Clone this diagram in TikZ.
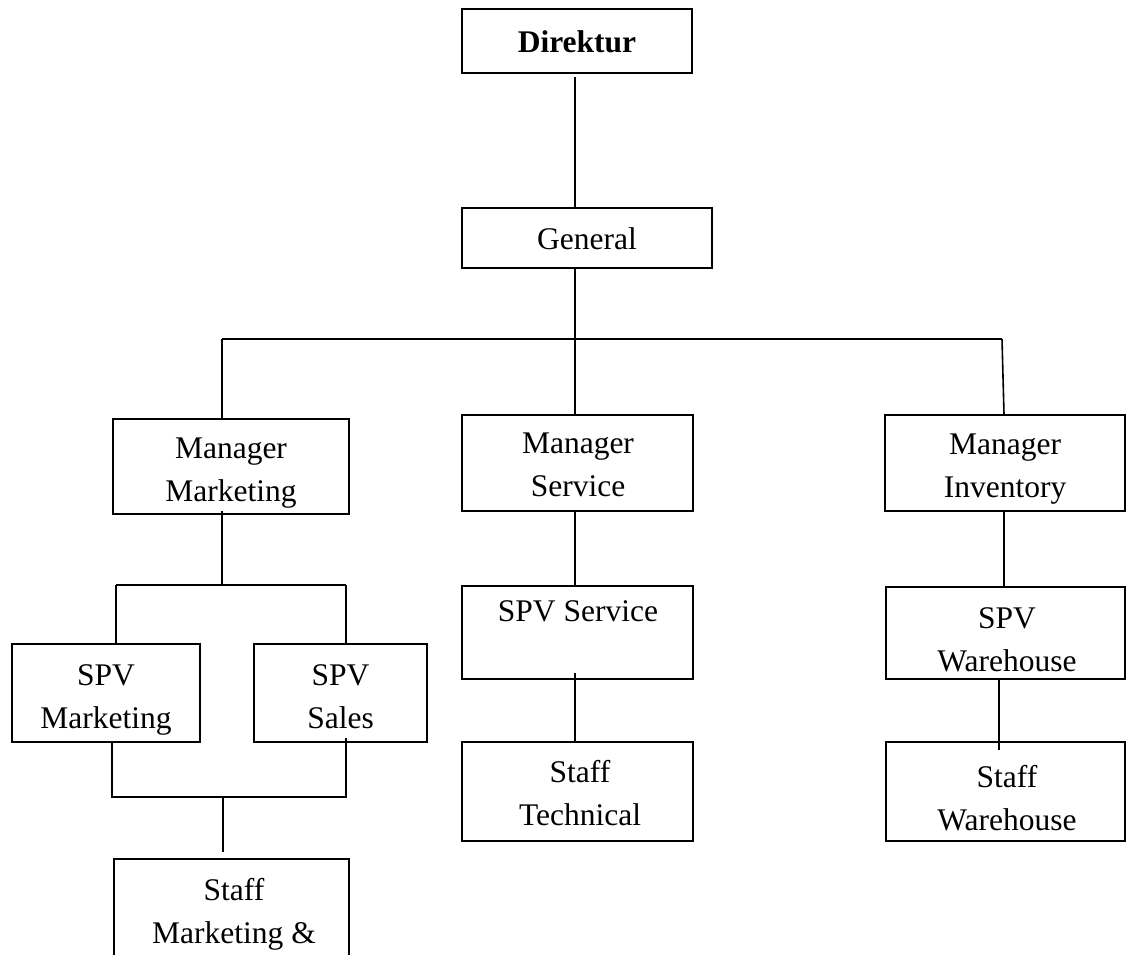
\documentclass[tikz,border=0pt]{standalone}
\usepackage{fontspec}
\setmainfont{Liberation Serif}
\begin{document}
\begin{tikzpicture}[x=1pt,y=-1pt,
  line width=1.6pt,
  box/.style={draw, line width=1.6pt, inner sep=0pt, fill=white},
  txt/.style={font=\fontsize{31.5}{43}\selectfont, align=center, inner sep=0pt, anchor=north},
  one/.style={font=\fontsize{31.5}{43}\selectfont, inner sep=0pt, anchor=base},
  link/.style={draw, line width=1.6pt}]
\clip (0,0) rectangle (1127,954);
\fill[white] (0,0) rectangle (1127,954);
% boxes
\node[box, minimum width=230pt, minimum height=64pt] (dir) at (577,41) {};
\node[box, minimum width=250pt, minimum height=60pt] (gen) at (587,238) {};
\node[box, minimum width=236pt, minimum height=95pt] (mm) at (231,466.5) {};
\node[box, minimum width=231pt, minimum height=96pt] (ms) at (577.5,463) {};
\node[box, minimum width=240pt, minimum height=96pt] (mi) at (1005,463) {};
\node[box, minimum width=188pt, minimum height=98pt] (spvm) at (106,693) {};
\node[box, minimum width=173pt, minimum height=98pt] (spvs) at (340.5,693) {};
\node[box, minimum width=235pt, minimum height=160pt] (sm) at (231.5,939) {};
\node[box, minimum width=231pt, minimum height=93pt] (sps) at (577.5,632.5) {};
\node[box, minimum width=231pt, minimum height=99pt] (st) at (577.5,791.5) {};
\node[box, minimum width=239pt, minimum height=92pt] (spvw) at (1005.5,633) {};
\node[box, minimum width=239pt, minimum height=99pt] (sw) at (1005.5,791.5) {};
% texts
\node[one, font=\fontsize{31.5}{43}\selectfont\bfseries] (tdir) at (577,52) {Direktur};
\node[one] (tgen) at (587,249) {General};
\node[txt] (tmm) at (231,437) {Manager\\Marketing};
\node[txt] (tms) at (578,432) {Manager\\Service};
\node[txt] (tmi) at (1005,433) {Manager\\Inventory};
\node[txt] (tspvm) at (106,664) {SPV\\Marketing};
\node[txt] (tspvs) at (340.5,664) {SPV\\Sales};
\node[txt] (tsm) at (234,878) {Staff\\Marketing \&};
\node[txt] (tsps) at (578,600) {SPV Service};
\node[txt] (tst) at (580,760) {Staff\\Technical};
\node[txt] (tspvw) at (1007,607) {SPV\\Warehouse};
\node[txt] (tsw) at (1007,765) {Staff\\Warehouse};
% helper coordinates
\coordinate (gx) at (575,0);
\coordinate (busL) at (222,339);
\coordinate (busR) at (1002,339);
\coordinate (mb) at (222,585);
\coordinate (mbL) at (116,585);
\coordinate (mbR) at (346,585);
\coordinate (jb) at (223,797);
\coordinate (jbL) at (112,797);
\coordinate (jbR) at (346,797);
\coordinate (rx) at (1004,0);
\coordinate (rx2) at (999,0);
% connectors
\draw[link] ([yshift=-3pt]dir.south -| gx) -- (gen.north -| gx);
\draw[link] (gen.south -| gx) -- (ms.north -| gx);
\draw[link] (busL) -- (busR);
\draw[link] (busL) -- (mm.north -| busL);
\draw[link] (busR) -- (mi.north -| rx);
\draw[link] ([yshift=4pt]mm.south -| mb) -- (mb);
\draw[link] (mbL) -- (mbR);
\draw[link] (mbL) -- (spvm.north -| mbL);
\draw[link] (mbR) -- (spvs.north -| mbR);
\draw[link] (spvm.south -| jbL) -- (jbL) -- (jbR) -- ([yshift=5pt]spvs.south -| jbR);
\draw[link] (jb) -- ([yshift=6pt]sm.north -| jb);
\draw[link] (ms.south -| gx) -- (sps.north -| gx);
\draw[link] ([yshift=7pt]sps.south -| gx) -- (st.north -| gx);
\draw[link] (mi.south -| rx) -- (spvw.north -| rx);
\draw[link] (spvw.south -| rx2) -- ([yshift=-9pt]sw.north -| rx2);
\end{tikzpicture}
\end{document}
